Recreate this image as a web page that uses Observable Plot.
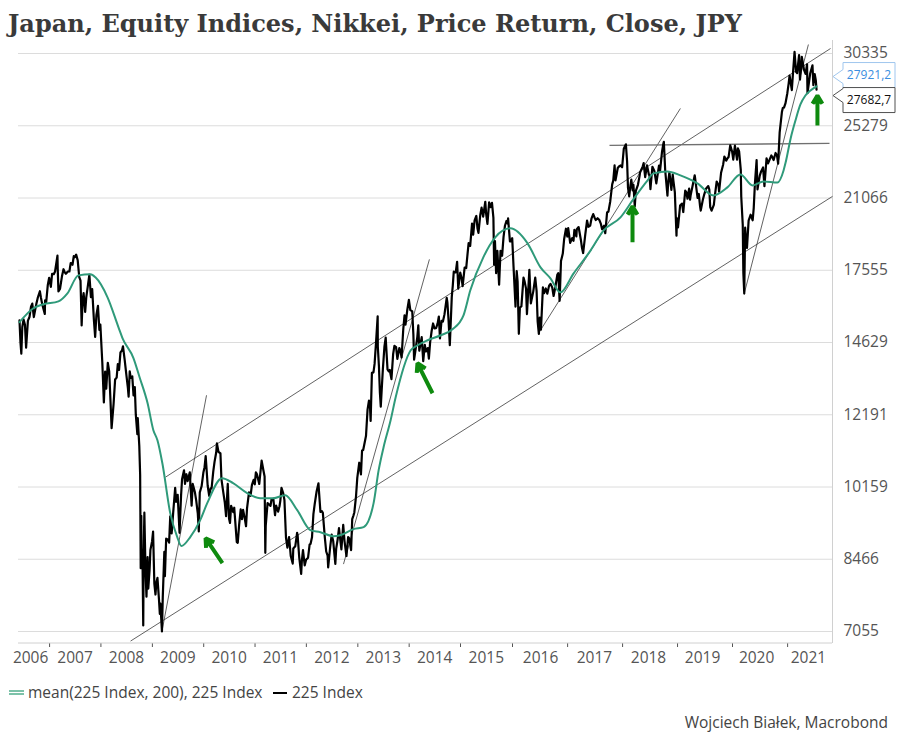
<!DOCTYPE html>
<html><head><meta charset="utf-8">
<script src="https://cdn.jsdelivr.net/npm/d3@7"></script>
<script src="https://cdn.jsdelivr.net/npm/@observablehq/plot@0.6"></script>
<style>
body{margin:0;background:#fff;}
#wrap{position:relative;width:900px;height:745px;overflow:hidden;font-family:"Open Sans",sans-serif;color:#444;}
#chart{position:absolute;left:0;top:0;}
#titlesvg{position:absolute;left:0;top:0;}
.lg{position:absolute;font-size:15.5px;line-height:20px;white-space:nowrap;color:#444;}
</style></head><body>
<div id="wrap">
<div id="chart"></div>
<svg id="titlesvg" width="900" height="42"><text x="8" y="32" font-family="DejaVu Serif" font-weight="bold" font-size="23.5" textLength="734" lengthAdjust="spacingAndGlyphs" fill="#3a3a3a">Japan, Equity Indices, Nikkei, Price Return, Close, JPY</text></svg>
<div style="position:absolute;left:9px;top:689.5px;width:15px;height:1px;border-top:2px solid #7cc2a9;border-bottom:2px solid #7cc2a9;"></div>
<div class="lg" style="left:28px;top:682px;">mean(225 Index, 200), 225 Index</div>
<div style="position:absolute;left:273px;top:691.5px;width:14px;height:2.5px;background:#000;"></div>
<div class="lg" style="left:292px;top:682px;">225 Index</div>
<div class="lg" style="right:12px;top:712px;">Wojciech Białek, Macrobond</div>
</div>
<script>
// ---------- Price (225 Index), [MM-DD, value] per year ----------
const p2006 = [["06-01",15467],["06-08",14633],["06-14",14219],["06-21",15214],["06-30",15505],["07-10",15300],["07-18",14437],["07-31",15457],["08-11",15600],["08-22",16012],["08-31",16140],["09-11",15600],["09-21",15900],["09-29",16127],["10-10",16400],["10-24",16650],["10-31",16399],["11-10",16100],["11-28",15725],["11-30",16274],["12-08",16200],["12-19",16900],["12-29",17226]];
const p2007 = [["01-10",16838],["01-19",17400],["01-31",17383],["02-09",17500],["02-26",18215],["02-28",17604],["03-05",16642],["03-16",16744],["03-30",17288],["04-10",17600],["04-20",17450],["04-27",17400],["05-11",17500],["05-22",17500],["05-31",17875],["06-13",17800],["06-22",18188],["06-29",18138],["07-09",18261],["07-20",18000],["07-31",17248],["08-09",17100],["08-17",15273],["08-24",16300],["08-31",16569],["09-11",15800],["09-19",16400],["09-28",16785],["10-11",17358],["10-22",16400],["10-31",16737],["11-12",15500],["11-21",14837],["11-30",15680],["12-11",16044],["12-21",15100],["12-28",15307]];
const p2008 = [["01-11",13900],["01-22",12573],["01-31",13592],["02-08",13017],["02-19",13900],["02-29",13603],["03-10",12532],["03-17",11787],["03-31",12525],["04-11",13323],["04-22",13388],["04-30",13849],["05-09",13655],["05-19",14269],["05-30",14338],["06-06",14489],["06-18",14000],["06-30",13481],["07-11",13039],["07-16",12760],["07-24",13600],["07-31",13376],["08-11",13430],["08-20",12800],["08-29",13072],["09-05",12200],["09-16",11609],["09-19",12090],["09-30",11259],["10-06",10473],["10-10",8276],["10-14",9447],["10-16",8458],["10-22",8674],["10-28",7163],["10-31",8577],["11-05",9521],["11-13",8238],["11-20",7703],["11-28",8512],["12-03",7863],["12-12",8236],["12-18",8668],["12-30",8860]];
const p2009 = [["01-06",9080],["01-15",7960],["01-23",7745],["01-30",7994],["02-06",8077],["02-17",7645],["02-23",7376],["02-27",7568],["03-10",7055],["03-16",7704],["03-27",8627],["03-31",8110],["04-09",8917],["04-20",8900],["04-30",8828],["05-08",9433],["05-18",9039],["05-29",9523],["06-12",10135],["06-19",9786],["06-30",9958],["07-13",9050],["07-24",9945],["07-31",10357],["08-14",10597],["08-21",10238],["08-31",10492],["09-09",10312],["09-24",10544],["09-30",10133],["10-07",9691],["10-15",10238],["10-30",10034],["11-09",9808],["11-20",9497],["11-27",9081],["12-04",10022],["12-17",10177],["12-30",10546]];
const p2010 = [["01-07",10681],["01-15",10982],["01-22",10590],["01-29",10198],["02-09",9932],["02-19",10123],["02-26",10126],["03-10",10567],["03-19",10824],["03-31",11089],["04-05",11339],["04-16",11102],["04-30",11057],["05-07",10364],["05-20",10030],["05-31",9768],["06-09",9440],["06-21",10238],["06-30",9382],["07-07",9279],["07-15",9685],["07-30",9537],["08-06",9642],["08-24",8845],["08-31",8824],["09-10",9239],["09-21",9603],["09-30",9369],["10-08",9589],["10-20",9381],["10-29",9202],["11-05",9625],["11-19",10022],["11-30",9937],["12-10",10212],["12-22",10346],["12-30",10229]];
const p2011 = [["01-07",10541],["01-14",10499],["01-31",10238],["02-10",10605],["02-17",10857],["02-28",10624],["03-10",10434],["03-15",8605],["03-18",9207],["03-31",9755],["04-11",9720],["04-21",9685],["04-28",9849],["05-11",9864],["05-23",9460],["05-31",9694],["06-14",9547],["06-24",9678],["06-30",9816],["07-08",10138],["07-20",10005],["07-29",9833],["08-09",8944],["08-19",8719],["08-31",8955],["09-12",8535],["09-26",8374],["09-30",8700],["10-14",8747],["10-27",9050],["10-31",8988],["11-11",8514],["11-25",8160],["11-30",8435],["12-08",8664],["12-20",8336],["12-30",8455]];
const p2012 = [["01-13",8500],["01-24",8785],["01-31",8803],["02-10",8947],["02-20",9485],["02-29",9723],["03-14",10050],["03-27",10255],["03-30",10084],["04-10",9538],["04-20",9561],["04-27",9521],["05-11",8953],["05-21",8633],["05-31",8543],["06-04",8295],["06-18",8721],["06-29",9007],["07-10",8857],["07-25",8365],["07-31",8695],["08-10",8891],["08-20",9157],["08-31",8840],["09-06",8680],["09-19",9232],["09-28",8870],["10-12",8535],["10-24",8954],["10-31",8928],["11-14",8665],["11-22",9366],["11-30",9446],["12-07",9527],["12-19",9924],["12-28",10395]];
const p2013 = [["01-11",10801],["01-23",10487],["01-31",11138],["02-08",11153],["02-19",11372],["02-28",11559],["03-11",12349],["03-21",12635],["03-29",12398],["04-02",12003],["04-11",13549],["04-22",13568],["04-30",13861],["05-10",14607],["05-22",15627],["05-23",14483],["05-31",13775],["06-07",12877],["06-13",12445],["06-20",13014],["06-28",13677],["07-09",14473],["07-18",14808],["07-31",13668],["08-08",13605],["08-16",13650],["08-28",13338],["09-09",14205],["09-18",14505],["09-30",14456],["10-09",14037],["10-23",14426],["10-31",14328],["11-08",14086],["11-20",15126],["11-29",15662],["12-06",15300],["12-18",15859],["12-30",16291]];
const p2014 = [["01-09",15880],["01-23",15820],["01-31",14915],["02-05",14009],["02-14",14313],["02-28",14841],["03-07",15274],["03-14",14327],["03-31",14828],["04-11",13960],["04-22",14545],["04-30",14304],["05-13",14426],["05-21",14043],["05-30",14632],["06-10",15069],["06-20",15349],["06-30",15162],["07-11",15164],["07-22",15344],["07-31",15621],["08-08",14778],["08-19",15450],["08-29",15425],["09-09",15705],["09-25",16374],["09-30",16174],["10-08",15479],["10-17",14532],["10-31",16414],["11-07",16880],["11-14",17490],["11-28",17460],["12-08",17935],["12-16",16756],["12-30",17451]];
const p2015 = [["01-09",17198],["01-16",16864],["01-30",17674],["02-10",17652],["02-20",18332],["02-27",18798],["03-10",18665],["03-23",19754],["03-31",19207],["04-10",19908],["04-22",20133],["04-30",19520],["05-07",19292],["05-20",20196],["05-29",20563],["06-09",20096],["06-24",20868],["06-30",20236],["07-09",19737],["07-21",20841],["07-31",20585],["08-10",20808],["08-20",20033],["08-25",17806],["08-31",18890],["09-08",17428],["09-17",18432],["09-29",16931],["10-09",18438],["10-20",18207],["10-30",19083],["11-09",19642],["11-20",19880],["11-30",19747],["12-01",20012],["12-14",18884],["12-22",18886],["12-30",19034]];
const p2016 = [["01-08",17698],["01-21",16017],["01-29",17518],["02-04",17045],["02-12",14953],["02-19",15967],["02-29",16027],["03-14",17233],["03-22",17048],["03-31",16759],["04-06",15715],["04-22",17572],["04-28",16666],["05-02",16147],["05-18",16645],["05-31",17235],["06-09",16668],["06-16",15434],["06-24",14952],["06-30",15576],["07-08",15107],["07-21",16811],["07-29",16569],["08-09",16765],["08-19",16546],["08-31",16887],["09-09",16965],["09-21",16808],["09-30",16450],["10-12",16841],["10-25",17366],["10-31",17425],["11-09",16251],["11-18",17968],["11-30",18308],["12-09",18996],["12-21",19494],["12-30",19114]];
const p2017 = [["01-05",19520],["01-18",18813],["01-31",19041],["02-09",18907],["02-15",19438],["02-28",19119],["03-03",19469],["03-15",19577],["03-31",18909],["04-06",18597],["04-14",18335],["04-28",19197],["05-10",19901],["05-19",19591],["05-31",19651],["06-09",20013],["06-20",20230],["06-30",20033],["07-07",19929],["07-19",20020],["07-31",19925],["08-10",19730],["08-18",19470],["08-31",19646],["09-08",19275],["09-20",20310],["09-29",20356],["10-11",20881],["10-24",21805],["10-31",22012],["11-09",22869],["11-15",22028],["11-30",22725],["12-08",22811],["12-19",22868],["12-29",22765]];
const p2018 = [["01-09",23850],["01-23",24124],["01-31",23098],["02-06",21610],["02-14",21154],["02-22",21737],["02-28",22068],["03-09",21470],["03-14",21777],["03-23",20618],["03-30",21454],["04-13",21779],["04-24",22278],["04-27",22468],["05-15",22818],["05-21",23002],["05-31",22202],["06-12",22878],["06-25",22338],["06-29",22305],["07-05",21547],["07-18",22794],["07-31",22554],["08-13",21858],["08-22",22362],["08-31",22865],["09-06",22487],["09-20",23675],["09-28",24120],["10-02",24271],["10-11",22591],["10-26",21185],["10-31",21920],["11-08",22487],["11-21",21507],["11-30",22351],["12-04",22036],["12-14",21375],["12-25",19155],["12-28",20015]];
const p2019 = [["01-04",19562],["01-18",20666],["01-31",20773],["02-08",20333],["02-21",21464],["02-28",21385],["03-08",21026],["03-19",21567],["03-25",20977],["03-29",21206],["04-10",21688],["04-25",22307],["04-26",22259],["05-14",21067],["05-22",21283],["05-31",20601],["06-04",20408],["06-18",20972],["06-28",21276],["07-09",21565],["07-24",21710],["07-31",21522],["08-06",20586],["08-15",20406],["08-30",20704],["09-06",21200],["09-18",21961],["09-30",21756],["10-04",21410],["10-17",22452],["10-31",22927],["11-08",23392],["11-20",23148],["11-29",23294],["12-06",23354],["12-17",24066],["12-30",23657]];
const p2020 = [["01-06",23205],["01-17",24041],["01-31",23205],["02-06",23874],["02-14",23688],["02-25",22606],["02-28",21143],["03-09",19699],["03-13",17431],["03-19",16553],["03-25",19546],["03-31",18917],["04-06",18576],["04-17",19897],["04-30",20194],["05-14",19915],["05-21",20552],["05-29",21878],["06-09",23178],["06-15",21531],["06-30",22288],["07-09",22529],["07-22",22751],["07-31",21710],["08-14",23289],["08-24",22985],["08-31",23140],["09-15",23455],["09-21",23360],["09-30",23185],["10-13",23601],["10-22",23474],["10-30",22977],["11-09",24839],["11-24",26165],["11-30",26434],["12-08",26467],["12-18",26763],["12-30",27444]];
const p2021 = [["01-08",28139],["01-14",28698],["01-29",27663],["02-05",28779],["02-16",30468],["02-26",28966],["03-05",28864],["03-18",30216],["03-24",28405],["03-31",29179],["04-05",30089],["04-20",29101],["04-30",28813],["05-10",29518],["05-13",27448],["05-31",28860],["06-15",29441],["06-21",28010],["06-30",28792],["07-07",28366],["07-12",27682.7]];
const priceYears = [2006,2007,2008,2009,2010,2011,2012,2013,2014,2015,2016,2017,2018,2019,2020,2021];
const priceBlocks = [p2006,p2007,p2008,p2009,p2010,p2011,p2012,p2013,p2014,p2015,p2016,p2017,p2018,p2019,p2020,p2021];

// ---------- 200-day mean ----------
const maDates = ["2006-06-01","2006-09-08","2006-11-18","2007-03-05","2007-05-08","2007-07-25","2007-10-19","2007-11-23","2008-02-17","2008-05-05","2008-06-03","2008-08-20","2008-10-02","2008-11-28","2009-01-08","2009-02-06","2009-03-13","2009-05-08","2009-06-27","2009-07-26","2009-09-27","2009-12-07","2010-01-26","2010-05-12","2010-07-29","2010-11-06","2011-02-06","2011-05-10","2011-08-03","2011-10-28","2012-01-29","2012-04-10","2012-07-11","2012-08-29","2012-12-01","2013-02-11","2013-04-23","2013-05-29","2013-07-03","2013-08-22","2013-09-27","2014-01-12","2014-03-02","2014-05-13","2014-08-14","2014-11-05","2015-01-22","2015-03-11","2015-06-10","2015-09-02","2015-12-17","2016-04-10","2016-07-05","2016-09-09","2016-11-14","2017-02-10","2017-06-03","2017-08-28","2017-12-18","2018-03-08","2018-06-16","2018-07-25","2018-10-26","2019-01-20","2019-05-13","2019-08-27","2019-11-28","2020-02-22","2020-05-13","2020-07-25","2020-10-26","2020-12-05","2020-12-19","2021-01-21","2021-02-22","2021-03-27","2021-04-29","2021-06-02","2021-07-12"];
const maValues = [15400,15950,16110,16230,16560,17330,17376,17243,16396,15201,14785,14057,13402,12550,11725,11433,10788,9510,8952,8752,8952,9343,9753,10387,10257,10002,9877,9877,9950,9583,9113,9065,8973,8995,9134,9180,9753,10600,11233,12022,12741,14345,14527,14712,14898,15125,15668,16688,18137,19075,19512,18789,17685,17200,16602,17418,18459,19415,20060,20937,22023,22415,22527,22302,21857,21204,21638,22357,21747,21966,21910,22584,23049,24484,25618,26674,27287,27632,27921.2];

// ---------- Trend lines and arrows ----------
const trendStartDates = ["2009-04-04","2008-07-30","2009-03-10","2012-09-21","2016-06-22","2017-10-06","2020-03-19"];
const trendStartValues = [10414,6887,7055,8363,14974,24056,16553];
const trendEndDates = ["2021-10-13","2021-10-26","2010-01-21","2014-05-25","2019-01-20","2021-10-06","2021-05-19"];
const trendEndValues = [30720,21152,12805,18044,26408,24178,31030];
const trendKinds = ["thin","thin","thin","thin","thin","flat","thin"];

const arrowTailDates = ["2010-05-14","2014-06-16","2018-03-08","2021-07-18"];
const arrowTailValues = [8386,12871,18835,25296];
const arrowHeadDates = ["2010-01-14","2014-03-01","2018-03-08","2021-07-18"];
const arrowHeadValues = [8928,13882,20625,27287];

// ---------- Axes ----------
const yTicks = [7055,8466,10159,12191,14629,17555,21066,25279,30335];
const axisFloor = 6853;
const xDomainDates = ["2006-05-25","2015-01-01","2016-01-01","2021-10-26"];
const xRange = [18,460,512,832];
const yearTickDates = ["2007-01-01","2008-01-01","2009-01-01","2010-01-01","2011-01-01","2012-01-01","2013-01-01","2014-01-01","2015-01-01","2016-01-01","2017-01-01","2018-01-01","2019-01-01","2020-01-01","2021-01-01"];
const yearLabels = ["2006","2007","2008","2009","2010","2011","2012","2013","2014","2015","2016","2017","2018","2019","2020","2021"];
const yearLabelDates = ["2006-08-19","2007-07-01","2008-07-01","2009-07-01","2010-07-01","2011-07-01","2012-07-01","2013-07-01","2014-07-01","2015-07-01","2016-07-05","2017-06-28","2018-06-22","2019-06-16","2020-06-09","2021-05-19"];
const lastMA = 27921.2, lastPrice = 27682.7;

// ---------- Build ----------
const parse = d3.utcParse("%Y-%m-%d");
const price = priceBlocks.flatMap((blk, i) => blk.map(([md, v]) => ({date: parse(priceYears[i] + "-" + md), value: v})));
const ma = maDates.map((d, i) => ({date: parse(d), value: maValues[i]}));
const trends = trendStartDates.map((d, i) => ({x1: parse(d), y1: trendStartValues[i], x2: parse(trendEndDates[i]), y2: trendEndValues[i], kind: trendKinds[i]}));
const arrows = arrowTailDates.map((d, i) => ({x1: parse(d), y1: arrowTailValues[i], x2: parse(arrowHeadDates[i]), y2: arrowHeadValues[i]}));
const labels = yearLabels.map((t, i) => ({text: t, date: parse(yearLabelDates[i])}));
const xDomain = xDomainDates.map(parse);

const plot = Plot.plot({
  width: 900, height: 745,
  marginTop: 40, marginBottom: 102, marginLeft: 18, marginRight: 68,
  style: {fontFamily: "'Open Sans', sans-serif", fontSize: "15.5px", color: "#555", background: "transparent", overflow: "visible"},
  x: {type: "utc", domain: xDomain, range: xRange, ticks: yearTickDates.map(parse), tickSize: 4, tickFormat: () => "", label: null},
  y: {type: "log", domain: [yTicks[0], yTicks[yTicks.length - 1]], range: [631, 53], ticks: yTicks, tickFormat: d => String(d), tickSize: 0, tickPadding: 11, label: null, axis: "right"},
  marks: [
    Plot.ruleY(yTicks, {stroke: "#dcdcdc", strokeWidth: 1}),
    Plot.ruleY([axisFloor], {stroke: "#d0d0d0", strokeWidth: 1}),
    Plot.ruleX([xDomain[xDomain.length - 1]], {stroke: "#d0d0d0", strokeWidth: 1}),
    Plot.link(trends.filter(d => d.kind === "thin"), {x1: "x1", y1: "y1", x2: "x2", y2: "y2", stroke: "#3a3a3a", strokeWidth: 0.8}),
    Plot.link(trends.filter(d => d.kind === "flat"), {x1: "x1", y1: "y1", x2: "x2", y2: "y2", stroke: "#707070", strokeWidth: 1.4}),
    Plot.line(price, {x: "date", y: "value", stroke: "#000", strokeWidth: 2.2, strokeLinejoin: "round"}),
    Plot.line(ma, {x: "date", y: "value", stroke: "#2f9a7a", strokeWidth: 2, curve: "monotone-x"}),
    Plot.arrow(arrows, {x1: "x1", y1: "y1", x2: "x2", y2: "y2", stroke: "#0e8a0e", fill: "#0e8a0e", strokeWidth: 4, headLength: 3.6, headAngle: 62, strokeLinecap: "butt"}),
    Plot.text(labels, {x: "date", text: "text", frameAnchor: "bottom", dy: 19, fill: "#555", fontSize: 15.5})
  ]
});
document.getElementById("chart").appendChild(plot);

// value callouts at the right edge, positioned with the y scale
const ys = plot.scale("y");
const yA = ys.apply(lastMA), yB = ys.apply(lastPrice);
const mid = (yA + yB) / 2;
const ns = "http://www.w3.org/2000/svg";
function callout(top, bottom, tip, stroke, color, txt) {
  const g = document.createElementNS(ns, "g");
  const p = document.createElementNS(ns, "path");
  const L = 843, R = 895, T = 833;
  p.setAttribute("d", `M${T},${tip} L${L},${tip - 7} L${L},${top} L${R},${top} L${R},${bottom} L${L},${bottom} L${L},${tip + 7} Z`);
  p.setAttribute("fill", "#fff"); p.setAttribute("stroke", stroke); p.setAttribute("stroke-width", "1");
  g.appendChild(p);
  const t = document.createElementNS(ns, "text");
  t.setAttribute("x", (L + R) / 2); t.setAttribute("y", (top + bottom) / 2);
  t.setAttribute("dy", "0.35em"); t.setAttribute("text-anchor", "middle");
  t.setAttribute("font-size", "12"); t.setAttribute("fill", color);
  t.textContent = txt;
  g.appendChild(t);
  plot.appendChild(g);
}
const fmt = v => v.toFixed(1).replace(".", ",");
callout(mid - 25, mid, mid - 11, "#9fc6ee", "#3a8ee0", fmt(lastMA));
callout(mid, mid + 25, mid + 8, "#505050", "#111", fmt(lastPrice));
</script>
</body></html>
